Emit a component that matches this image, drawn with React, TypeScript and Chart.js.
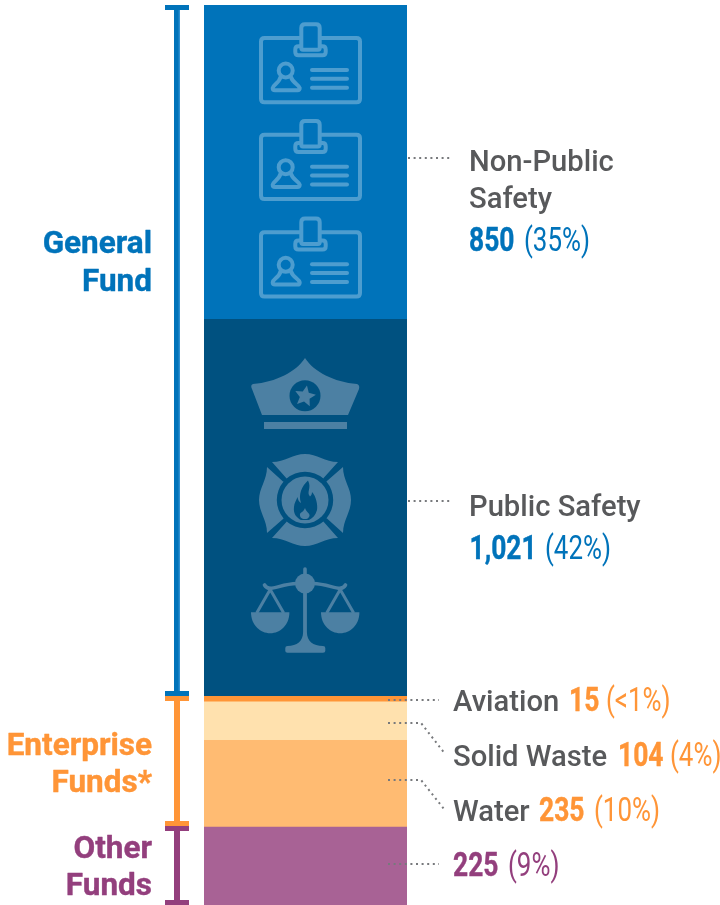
import React, { useEffect, useRef } from "react";
import { Chart, registerables } from "chart.js";

Chart.register(...registerables);

const categories = ["City staff"];
const segmentNames = ["Non-Public Safety", "Public Safety", "Aviation", "Solid Waste", "Water", "Other Funds"];
const segmentValues = [850, 1021, 15, 104, 235, 225];
const segmentShares = ["35%", "42%", "<1%", "4%", "10%", "9%"];
const segmentColors = ["#0073BA", "#005180", "#FF9537", "#FFE1AE", "#FFBB72", "#A86295"];

const BLUE = "#0073BA";
const ORANGE = "#FF9537";
const PURPLE = "#933F7D";
const GRAY = "#58595B";
const LEADER = "#77797C";
const ICON_ON_BLUE = "#4D9DCF";
const ICON_ON_DARK = "#4C80A3";
const DARK = "#005180";

const FONT = "Roboto";
const NAME_FONT = `500 29.2px ${FONT}`;
const NUM_FONT = `700 33px ${FONT}`;
const PCT_FONT = `400 33px ${FONT}`;
const TITLE_FONT = `700 31.5px ${FONT}`;

function text(
  ctx: CanvasRenderingContext2D,
  s: string,
  x: number,
  y: number,
  font: string,
  color: string,
  sx = 1,
  align: CanvasTextAlign = "left",
  weight = 0
) {
  ctx.save();
  ctx.font = font;
  ctx.fillStyle = color;
  ctx.textAlign = align;
  ctx.textBaseline = "alphabetic";
  ctx.translate(x, y);
  ctx.scale(sx, 1);
  ctx.fillText(s, 0, 0);
  if (weight > 0) {
    ctx.strokeStyle = color;
    ctx.lineWidth = weight;
    ctx.lineJoin = "round";
    ctx.strokeText(s, 0, 0);
  }
  ctx.restore();
}

function badge(ctx: CanvasRenderingContext2D, dy: number) {
  ctx.save();
  ctx.translate(0, dy);
  ctx.strokeStyle = ICON_ON_BLUE;
  ctx.lineWidth = 4;
  ctx.lineJoin = "round";
  ctx.lineCap = "round";
  // card outline with the gap for the clip
  ctx.beginPath();
  ctx.moveTo(300, 38);
  ctx.lineTo(264.5, 38);
  ctx.quadraticCurveTo(261, 38, 261, 41.5);
  ctx.lineTo(261, 98.8);
  ctx.quadraticCurveTo(261, 102.3, 264.5, 102.3);
  ctx.lineTo(356.5, 102.3);
  ctx.quadraticCurveTo(360, 102.3, 360, 98.8);
  ctx.lineTo(360, 41.5);
  ctx.quadraticCurveTo(360, 38, 356.5, 38);
  ctx.lineTo(321, 38);
  ctx.stroke();
  // clip stem
  ctx.beginPath();
  ctx.moveTo(301.3, 48);
  ctx.lineTo(301.3, 28);
  ctx.quadraticCurveTo(301.3, 24.3, 305, 24.3);
  ctx.lineTo(316, 24.3);
  ctx.quadraticCurveTo(319.7, 24.3, 319.7, 28);
  ctx.lineTo(319.7, 48);
  ctx.quadraticCurveTo(319.7, 49.7, 318, 49.7);
  ctx.lineTo(303, 49.7);
  ctx.quadraticCurveTo(301.3, 49.7, 301.3, 48);
  ctx.stroke();
  // clip base
  ctx.beginPath();
  ctx.moveTo(301, 46.3);
  ctx.lineTo(298.5, 46.3);
  ctx.quadraticCurveTo(295.3, 46.3, 295.3, 49.5);
  ctx.lineTo(295.3, 52);
  ctx.quadraticCurveTo(295.3, 55.3, 298.5, 55.3);
  ctx.lineTo(322.5, 55.3);
  ctx.quadraticCurveTo(325.7, 55.3, 325.7, 52);
  ctx.lineTo(325.7, 49.5);
  ctx.quadraticCurveTo(325.7, 46.3, 322.5, 46.3);
  ctx.lineTo(320, 46.3);
  ctx.stroke();
  // person
  ctx.beginPath();
  ctx.arc(285.7, 70.5, 7, 0, Math.PI * 2);
  ctx.stroke();
  ctx.beginPath();
  ctx.moveTo(280.5, 77);
  ctx.bezierCurveTo(279.5, 83, 273, 84.5, 272.7, 88);
  ctx.quadraticCurveTo(272.7, 90.3, 275, 90.3);
  ctx.lineTo(297.5, 90.3);
  ctx.quadraticCurveTo(299.9, 90.3, 299.7, 88);
  ctx.bezierCurveTo(299, 84.5, 292.5, 83, 291, 77);
  ctx.stroke();
  // text lines
  for (const y of [70, 78.7, 87.7]) {
    ctx.beginPath();
    ctx.moveTo(312, y);
    ctx.lineTo(347, y);
    ctx.stroke();
  }
  ctx.restore();
}

function hat(ctx: CanvasRenderingContext2D) {
  ctx.fillStyle = ICON_ON_DARK;
  ctx.beginPath();
  ctx.moveTo(305, 358);
  ctx.bezierCurveTo(296, 372, 276, 382, 253, 384);
  ctx.quadraticCurveTo(250, 385, 252, 389);
  ctx.lineTo(262, 415);
  ctx.lineTo(348, 415);
  ctx.lineTo(359, 389);
  ctx.quadraticCurveTo(360, 385, 357, 384);
  ctx.bezierCurveTo(334, 382, 314, 372, 305, 358);
  ctx.closePath();
  ctx.fill();
  ctx.fillRect(264, 422, 83, 7);
  ctx.fillStyle = DARK;
  ctx.beginPath();
  ctx.arc(305, 395.7, 15.5, 0, Math.PI * 2);
  ctx.fill();
  ctx.fillStyle = ICON_ON_DARK;
  ctx.beginPath();
  for (let i = 0; i < 10; i++) {
    const r = i % 2 === 0 ? 11 : 5.2;
    const a = -Math.PI / 2 + 0.18 + (i * Math.PI) / 5;
    const px = 305 + r * Math.cos(a);
    const py = 396.3 + r * Math.sin(a);
    if (i === 0) ctx.moveTo(px, py);
    else ctx.lineTo(px, py);
  }
  ctx.closePath();
  ctx.fill();
}

function cross(ctx: CanvasRenderingContext2D) {
  ctx.save();
  ctx.translate(305, 500);
  ctx.fillStyle = ICON_ON_DARK;
  for (let i = 0; i < 4; i++) {
    ctx.save();
    ctx.rotate((i * Math.PI) / 2);
    ctx.beginPath();
    ctx.moveTo(-33, -38);
    ctx.bezierCurveTo(-20, -38, -12, -46, 0, -46);
    ctx.bezierCurveTo(12, -46, 20, -38, 33, -38);
    ctx.lineTo(18.6, -22);
    ctx.arc(0, 0, 28.2, -Math.PI / 2 + 0.71, -Math.PI / 2 - 0.71, true);
    ctx.closePath();
    ctx.fill();
    ctx.restore();
  }
  ctx.beginPath();
  ctx.arc(0, 0, 23.5, 0, Math.PI * 2);
  ctx.fill();
  // flame
  ctx.fillStyle = DARK;
  ctx.beginPath();
  ctx.moveTo(3, -19.5);
  ctx.bezierCurveTo(7, -12, 1, -8, 5, -3.5);
  ctx.bezierCurveTo(6.5, -5, 7, -6, 7, -8);
  ctx.bezierCurveTo(11, -4, 13, 5, 12, 10);
  ctx.bezierCurveTo(10.5, 15, 8, 18, 4, 20);
  ctx.lineTo(-4, 20);
  ctx.bezierCurveTo(-8, 18, -12, 14, -11, 7);
  ctx.bezierCurveTo(-11, 3, -8.5, 0, -7.5, -3);
  ctx.bezierCurveTo(-7, 0, -6, 2, -4, 3);
  ctx.bezierCurveTo(-7, -6, -3, -14, 3, -19.5);
  ctx.closePath();
  ctx.fill();
  ctx.fillStyle = ICON_ON_DARK;
  ctx.beginPath();
  ctx.moveTo(0, 8);
  ctx.bezierCurveTo(1, 12, 5, 13, 4.5, 16);
  ctx.bezierCurveTo(3.5, 18.5, 2, 19, 0, 19);
  ctx.bezierCurveTo(-3.5, 19, -5.5, 17, -5, 14);
  ctx.bezierCurveTo(-4, 12, -1.5, 12, 0, 8);
  ctx.closePath();
  ctx.fill();
  ctx.restore();
}

function scales(ctx: CanvasRenderingContext2D) {
  ctx.fillStyle = ICON_ON_DARK;
  ctx.strokeStyle = ICON_ON_DARK;
  ctx.lineCap = "round";
  ctx.lineWidth = 3.6;
  // top pin
  ctx.beginPath();
  ctx.moveTo(305, 569);
  ctx.lineTo(305, 580);
  ctx.stroke();
  // beam
  ctx.beginPath();
  ctx.moveTo(264.5, 585);
  ctx.bezierCurveTo(269, 593, 279, 584, 297, 583.5);
  ctx.moveTo(345.5, 585);
  ctx.bezierCurveTo(341, 593, 331, 584, 313, 583.5);
  ctx.stroke();
  ctx.beginPath();
  ctx.arc(305, 583.5, 10, 0, Math.PI * 2);
  ctx.fill();
  // post and foot
  ctx.beginPath();
  ctx.moveTo(303.1, 590);
  ctx.lineTo(303.1, 632);
  ctx.bezierCurveTo(303.1, 641, 297, 646, 287.5, 646);
  ctx.quadraticCurveTo(285.3, 646, 285.3, 648);
  ctx.lineTo(285.3, 651);
  ctx.quadraticCurveTo(285.3, 652.8, 287.5, 652.8);
  ctx.lineTo(323, 652.8);
  ctx.quadraticCurveTo(325.3, 652.8, 325.3, 651);
  ctx.lineTo(325.3, 648);
  ctx.quadraticCurveTo(325.3, 646, 323, 646);
  ctx.bezierCurveTo(313, 646, 306.9, 641, 306.9, 632);
  ctx.lineTo(306.9, 590);
  ctx.closePath();
  ctx.fill();
  // pans
  ctx.lineCap = "butt";
  ctx.lineWidth = 3;
  for (const cx of [270.2, 340.2]) {
    ctx.beginPath();
    ctx.moveTo(cx - 19.2, 612.3);
    ctx.lineTo(cx + 19.2, 612.3);
    ctx.bezierCurveTo(cx + 19.2, 625, cx + 10, 633.3, cx, 633.3);
    ctx.bezierCurveTo(cx - 10, 633.3, cx - 19.2, 625, cx - 19.2, 612.3);
    ctx.closePath();
    ctx.fill();
    ctx.beginPath();
    ctx.moveTo(cx - 13.5, 613);
    ctx.lineTo(cx, 589.5);
    ctx.lineTo(cx + 13.5, 613);
    ctx.stroke();
  }
}

function bracket(ctx: CanvasRenderingContext2D, top: number, bottom: number, color: string) {
  ctx.fillStyle = color;
  ctx.fillRect(174, top, 6, bottom - top);
  ctx.fillRect(165, top, 24, 5);
  ctx.fillRect(165, bottom - 5, 24, 5);
}

function leader(ctx: CanvasRenderingContext2D, pts: number[][]) {
  ctx.save();
  ctx.strokeStyle = LEADER;
  ctx.lineWidth = 2;
  ctx.setLineDash([2, 3.6]);
  ctx.beginPath();
  pts.forEach((p, i) => (i === 0 ? ctx.moveTo(p[0], p[1]) : ctx.lineTo(p[0], p[1])));
  ctx.stroke();
  ctx.restore();
}

const annotations = {
  id: "annotations",
  afterDatasetsDraw(chart: any) {
    const ctx: CanvasRenderingContext2D = chart.ctx;
    const y = chart.scales.y;
    const cum = (n: number) => segmentValues.slice(0, n).reduce((a, b) => a + b, 0);
    const edge = (n: number) => Math.round(y.getPixelForValue(cum(n)));
    ctx.save();

    badge(ctx, 0);
    badge(ctx, 96.7);
    badge(ctx, 194.3);
    hat(ctx);
    cross(ctx);
    scales(ctx);

    // fund brackets
    bracket(ctx, chart.chartArea.top, edge(2), BLUE);
    ctx.fillStyle = "#2E8FD0";
    ctx.fillRect(178.6, chart.chartArea.top + 5, 1.4, edge(2) - chart.chartArea.top - 10);
    bracket(ctx, edge(2), edge(5), ORANGE);
    bracket(ctx, edge(5), chart.chartArea.bottom, PURPLE);

    // leaders
    leader(ctx, [[408, 158], [452, 158]]);
    leader(ctx, [[408, 501], [452, 501]]);
    leader(ctx, [[388, 700], [439, 700]]);
    leader(ctx, [[388, 723], [421, 723], [444, 752.5]]);
    leader(ctx, [[388, 780], [421, 780], [444, 809]]);
    leader(ctx, [[388, 864], [439, 864]]);

    // fund titles
    const w = 0.4;
    text(ctx, "General", 152, 253, TITLE_FONT, BLUE, 1, "right", w);
    text(ctx, "Fund", 152, 290.5, TITLE_FONT, BLUE, 1, "right", w);
    text(ctx, "Enterprise", 152, 754.5, TITLE_FONT, ORANGE, 1, "right", w);
    text(ctx, "Funds*", 152, 791.5, TITLE_FONT, ORANGE, 1, "right", w);
    text(ctx, "Other", 152, 857.5, TITLE_FONT, PURPLE, 1, "right", w);
    text(ctx, "Funds", 152, 895, TITLE_FONT, PURPLE, 1, "right", w);

    // segment labels
    const num = (i: number) => segmentValues[i].toLocaleString("en-US");
    const pct = (i: number) => `(${segmentShares[i]})`;
    const sx = 0.8;
    const sp = 0.785;
    text(ctx, "Non-Public", 469, 171, NAME_FONT, GRAY);
    text(ctx, "Safety", 469, 208, NAME_FONT, GRAY);
    text(ctx, num(0), 469, 251, NUM_FONT, BLUE, sx, "left", w);
    text(ctx, pct(0), 524, 251, PCT_FONT, BLUE, sp);

    text(ctx, segmentNames[1], 469, 516, NAME_FONT, GRAY);
    text(ctx, num(1), 469.5, 558.5, NUM_FONT, BLUE, sx, "left", w);
    text(ctx, pct(1), 545, 558.5, PCT_FONT, BLUE, sp);

    text(ctx, segmentNames[2], 453, 711, NAME_FONT, GRAY);
    text(ctx, num(2), 569, 711, NUM_FONT, ORANGE, sx, "left", w);
    text(ctx, pct(2), 606, 711, PCT_FONT, ORANGE, sp);

    text(ctx, segmentNames[3], 453, 766, NAME_FONT, GRAY);
    text(ctx, num(3), 618, 766, NUM_FONT, ORANGE, sx, "left", w);
    text(ctx, pct(3), 670, 766, PCT_FONT, ORANGE, sp);

    text(ctx, segmentNames[4], 453, 821, NAME_FONT, GRAY);
    text(ctx, num(4), 539, 821, NUM_FONT, ORANGE, sx, "left", w);
    text(ctx, pct(4), 594, 821, PCT_FONT, ORANGE, sp);

    text(ctx, num(5), 453, 876, NUM_FONT, PURPLE, sx, "left", w);
    text(ctx, pct(5), 508, 876, PCT_FONT, PURPLE, sp);

    ctx.restore();
  },
};

export default function App() {
  const ref = useRef<HTMLCanvasElement>(null);
  useEffect(() => {
    const chart = new Chart(ref.current as HTMLCanvasElement, {
      type: "bar",
      data: {
        labels: categories,
        datasets: segmentNames.map((name, i) => ({
          label: name,
          data: [segmentValues[i]],
          backgroundColor: segmentColors[i],
          borderWidth: 0,
          barPercentage: 1,
          categoryPercentage: 1,
        })),
      },
      options: {
        responsive: false,
        animation: false,
        layout: { padding: { left: 204, right: 313, top: 5, bottom: 0 } },
        plugins: { legend: { display: false }, tooltip: { enabled: false } },
        scales: {
          x: { stacked: true, display: false },
          y: { stacked: true, display: false, reverse: true, min: 0, max: 2438 },
        },
      },
      plugins: [annotations],
    });
    return () => chart.destroy();
  }, []);
  return (
    <div style={{ position: "absolute", left: 0, top: 0, width: 720, height: 905, background: "#fff" }}>
      <canvas ref={ref} width={720} height={905} style={{ display: "block" }} />
    </div>
  );
}
